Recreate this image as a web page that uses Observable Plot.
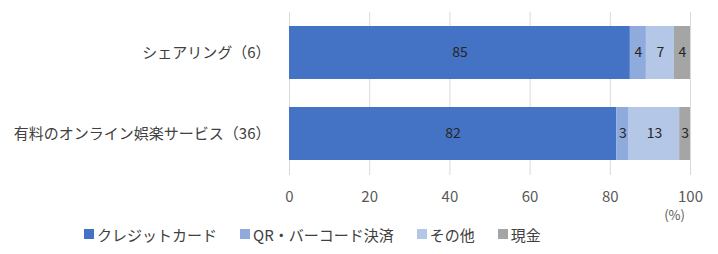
<!DOCTYPE html>
<html><head><meta charset="utf-8">
<script src="https://cdn.jsdelivr.net/npm/d3@7"></script>
<script src="https://cdn.jsdelivr.net/npm/@observablehq/plot@0.6"></script>
<style>
body{margin:0;background:#fff;font-family:"Noto Sans CJK JP","Noto Sans",sans-serif;}
#wrap{width:718px;height:254px;position:relative;}
#legend{display:flex;align-items:center;height:24px;padding-left:84px;font-size:15px;color:#404040;}
#legend .item{display:flex;align-items:center;margin-right:23px;}
#legend .sw{width:10px;height:10px;margin-right:3px;}
</style>
</head><body><div id="wrap"><div id="chart"></div><div id="legend"></div></div>
<script>
const categories = ["シェアリング（6）", "有料のオンライン娯楽サービス（36）"];
const series = ["クレジットカード", "QR・バーコード決済", "その他", "現金"];
const colors = ["#4472C4", "#8FAADC", "#B4C7E7", "#A5A5A5"];
const sharingValues = [85, 4, 7, 4];
const onlineValues = [81.6, 3.1, 12.6, 2.7];
const xTicks = [0, 20, 40, 60, 80, 100];
const unitLabel = "(%)";

const valuesByCategory = [sharingValues, onlineValues];
const data = [];
categories.forEach((c, i) => {
  series.forEach((s, j) => {
    const v = valuesByCategory[i][j];
    data.push({category: c, series: s, value: v, label: String(Math.round(v))});
  });
});

const plot = Plot.plot({
  width: 718,
  height: 222,
  marginLeft: 289,
  marginRight: 28,
  marginTop: 12,
  marginBottom: 47,
  style: {fontFamily: '"Noto Sans CJK JP","Noto Sans",sans-serif', fontSize: "15px", background: "#fff"},
  x: {domain: [0, 100]},
  y: {domain: categories, paddingInner: 0.34, paddingOuter: 0.17},
  color: {domain: series, range: colors},
  marks: [
    Plot.gridX(xTicks, {stroke: "#D9D9D9", strokeOpacity: 1}),
    Plot.barX(data, Plot.stackX({x: "value", y: "category", fill: "series"})),
    Plot.text(data, Plot.stackX({x: "value", y: "category", text: "label", fill: "#262626", fontSize: 14})),
    Plot.axisX(xTicks, {tickSize: 0, tickPadding: 16, label: null, fill: "#595959", fontSize: 15}),
    Plot.axisY({tickSize: 0, tickPadding: 19, label: null, fill: "#404040", fontSize: 15}),
    Plot.text([unitLabel], {frameAnchor: "bottom-right", dx: -16, dy: 44, textAnchor: "middle", fill: "#595959", fontSize: 13})
  ]
});
document.getElementById("chart").appendChild(plot);

const legend = document.getElementById("legend");
series.forEach((s, i) => {
  const item = document.createElement("div");
  item.className = "item";
  const sw = document.createElement("div");
  sw.className = "sw";
  sw.style.background = colors[i];
  const t = document.createElement("span");
  t.textContent = s;
  item.appendChild(sw);
  item.appendChild(t);
  legend.appendChild(item);
});
</script>
</body></html>
